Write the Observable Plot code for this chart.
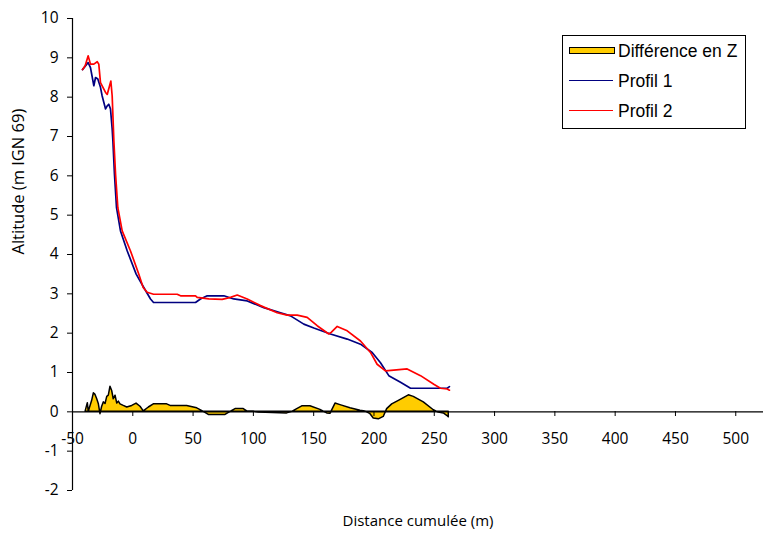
<!DOCTYPE html>
<html><head><meta charset="utf-8">
<script src="https://cdn.jsdelivr.net/npm/d3@7"></script>
<script src="https://cdn.jsdelivr.net/npm/@observablehq/plot@0.6"></script>
<style>
body{margin:0;background:#fff;}
#wrap{position:relative;width:763px;height:536px;overflow:hidden;}
#legend{position:absolute;left:562px;top:35px;width:182px;height:92px;border:1px solid #000;background:#fff;font-family:"Liberation Sans",Arial,sans-serif;font-size:17.5px;color:#000;}
.row{position:absolute;left:0;height:20px;width:100%;}
.sw{position:absolute;left:6px;width:44px;}
.lab{position:absolute;left:55px;top:0;line-height:20px;white-space:nowrap;}
</style></head>
<body><div id="wrap"><div id="chart"></div><div id="legend"></div></div>
<script>
// Profil 1 (blue)
const p1Dist = [-41.7,-37.0,-35.1,-32.3,-30.9,-29.0,-26.8,-25.4,-22.6,-21.2,-19.9,-18.5,-17.1,-16.5,-15.2,-13.5,-10.2,-4.6,2.8,9.1,14.7,17.2,52.0,56.1,61.7,75.5,83.7,94.9,108.6,122.5,130.8,141.8,150.1,163.9,177.8,188.8,198.5,205.4,212.3,222.0,230.3,260.7,262.6];
const p1Alt  = [8.70,8.88,8.75,8.29,8.50,8.46,8.25,8.03,7.70,7.78,7.82,7.70,7.19,6.89,6.04,5.19,4.60,4.09,3.50,3.16,2.87,2.78,2.78,2.87,2.95,2.95,2.87,2.82,2.65,2.52,2.44,2.23,2.13,1.98,1.85,1.72,1.51,1.25,0.92,0.75,0.60,0.60,0.64];
// Profil 2 (red)
const p2Dist = [-41.7,-39.5,-37.0,-35.1,-32.3,-29.5,-28.2,-26.8,-22.6,-21.2,-18.2,-17.1,-15.7,-14.3,-12.4,-8.8,-1.9,5.0,8.6,11.9,17.2,36.8,39.6,52.0,53.4,63.0,74.1,81.0,86.6,94.9,105.9,119.7,128.0,136.3,144.6,152.9,162.5,164.5,169.5,177.8,188.8,197.1,202.6,209.5,216.4,227.5,238.6,249.6,255.1,260.7,262.6];
const p2Alt  = [8.70,8.80,9.05,8.84,8.84,8.90,8.84,8.37,8.12,8.07,8.41,8.03,6.89,6.04,5.19,4.60,4.09,3.50,3.16,3.04,2.99,2.99,2.95,2.95,2.91,2.87,2.86,2.91,2.97,2.87,2.70,2.52,2.46,2.46,2.40,2.19,1.98,2.02,2.17,2.06,1.80,1.51,1.21,1.04,1.06,1.09,0.92,0.70,0.60,0.58,0.55];
// Différence en Z (yellow area)
const diffDist = [-39.2,-37.3,-36.5,-33.7,-32.3,-30.9,-29.5,-28.2,-26.8,-25.4,-24.0,-22.6,-21.2,-19.9,-18.5,-17.1,-15.8,-14.3,-12.9,-11.6,-10.2,-7.5,-4.6,-0.5,3.1,6.4,9.1,13.3,17.4,28.5,31.3,45.1,53.4,58.9,63.0,76.9,81.0,85.2,92.0,94.9,100.3,104.5,128.0,132.2,140.5,147.3,155.6,161.2,163.9,168.1,172.2,180.5,188.8,192.9,197.1,199.8,204.0,208.1,210.9,215.1,220.6,228.9,233.0,241.3,249.6,253.7,257.9,260.7,262.0];
const diffZ    = [0,0.22,0.0,0.28,0.47,0.43,0.32,0.20,-0.06,0.13,0.24,0.20,0.38,0.41,0.64,0.53,0.32,0.41,0.21,0.26,0.19,0.15,0.11,0.15,0.21,0.13,0.01,0.11,0.19,0.19,0.15,0.15,0.09,0.0,-0.08,-0.08,0.0,0.07,0.07,0.01,0.01,-0.02,-0.04,0.0,0.14,0.14,0.05,-0.04,-0.05,0.21,0.17,0.09,0.03,0.01,-0.06,-0.17,-0.19,-0.13,0.07,0.19,0.28,0.42,0.38,0.24,0.04,-0.02,-0.04,-0.10,-0.14];

const xTicks = [-50,0,50,100,150,200,250,300,350,400,450,500];
const yTicks = [-2,-1,0,1,2,3,4,5,6,7,8,9,10];
const seriesNames = ["Différence en Z","Profil 1","Profil 2"];
const seriesColors = ["#FFCC00","#000080","#FF0000"];

const p1 = p1Dist.map((d,i)=>({d, z:p1Alt[i]}));
const p2 = p2Dist.map((d,i)=>({d, z:p2Alt[i]}));
const diff = diffDist.map((d,i)=>({d, z:diffZ[i]}));
const fmt = v => String(v);

const chart = Plot.plot({
  width:763, height:536,
  marginLeft:72, marginRight:0, marginTop:18, marginBottom:46,
  x:{domain:[-50,523]},
  y:{domain:[-2,10]},
  style:{fontFamily:"'Open Sans', sans-serif", fontSize:"15px", color:"#000", background:"#fff"},
  marks:[
    Plot.areaY(diff, {x:"d", y:"z", fill:seriesColors[0], stroke:"#000", strokeWidth:1.5}),
    Plot.ruleY([0], {stroke:"#000", strokeWidth:1.2}),
    Plot.ruleX([-50], {stroke:"#000", strokeWidth:1.2}),
    Plot.axisY(yTicks, {anchor:"left", tickSize:5, tickPadding:9, tickFormat:fmt, label:null, fontSize:15.5}),
    Plot.axisX(xTicks, {anchor:"bottom", dy:-79, tickSize:5, tickPadding:16, tickFormat:fmt, label:null, fontSize:15.5}),
    Plot.text(["Altitude (m IGN 69)"], {frameAnchor:"left", rotate:-90, dx:-54, fontSize:16.5}),
    Plot.text(["Distance cumulée (m)"], {frameAnchor:"bottom", dy:35, fontSize:15}),
    Plot.lineY(p1, {x:"d", y:"z", stroke:seriesColors[1], strokeWidth:1.7}),
    Plot.lineY(p2, {x:"d", y:"z", stroke:seriesColors[2], strokeWidth:1.7})
  ]
});
document.getElementById("chart").appendChild(chart);

const leg = document.getElementById("legend");
seriesNames.forEach((name,i)=>{
  const row = document.createElement("div");
  row.className = "row";
  row.style.top = (5 + i*30) + "px";
  const sw = document.createElement("div");
  sw.className = "sw";
  if (i === 0) {
    sw.style.top = "6px"; sw.style.height = "5px";
    sw.style.background = seriesColors[i]; sw.style.border = "1.5px solid #000";
  } else {
    sw.style.top = "9px"; sw.style.height = "0px";
    sw.style.borderTop = "1.5px solid " + seriesColors[i];
  }
  const lab = document.createElement("div");
  lab.className = "lab"; lab.textContent = name;
  row.appendChild(sw); row.appendChild(lab);
  leg.appendChild(row);
});
</script>
</body></html>
